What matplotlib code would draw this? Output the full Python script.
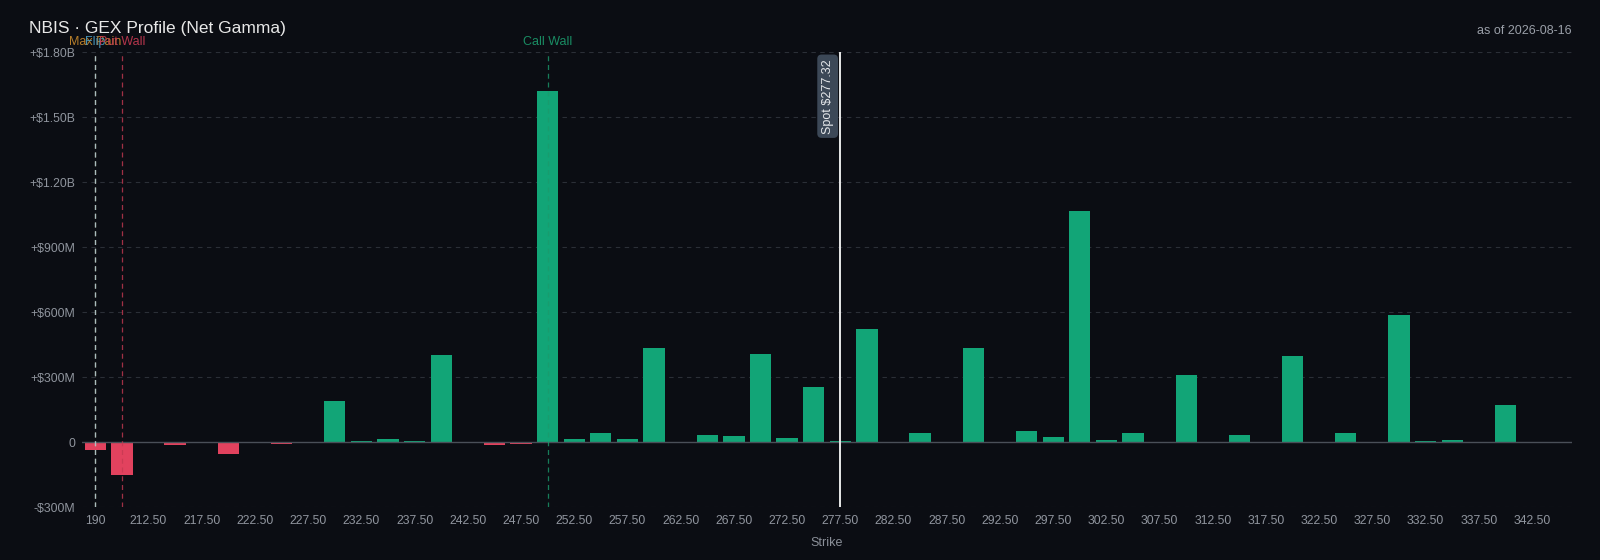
import matplotlib.pyplot as plt
import matplotlib.transforms as mtransforms

plt.rcParams['font.family'] = ['Liberation Sans', 'DejaVu Sans']

# strikes (category axis) and net gamma in $M
strikes = [190, 200] + [212.5 + 2.5 * i for i in range(54)]
net_gex = [-35, -152, 2, -12, 0, -55, 0, -10, -3, 191,
           3, 14, 5, 403, -3, -13, -11, 1620, 15, 40,
           14, 433, 0, 31, 26, 407, 17, 255, 6, 521,
           2, 40, 1, 436, 2, 50, 22, 1068, 9, 40,
           0, 311, 1, 34, 0, 397, 0, 43, 1, 586,
           3, 11, 0, 171, 0, 0]
spot = 277.32
levels = {'Max Pain': 190, 'Flip': 190, 'Put Wall': 200, 'Call Wall': 250}
level_colors = {'Max Pain': '#c98a2c', 'Flip': '#4c9fc4', 'Put Wall': '#c63a52', 'Call Wall': '#1b9a6c'}
line_colors = {'Max Pain': '#d8c89a', 'Flip': '#a9c4d0', 'Put Wall': '#c63a52', 'Call Wall': '#1b9a6c'}
yticks = [-300, 0, 300, 600, 900, 1200, 1500, 1800]
ytick_labels = ['-$300M', '0', '+$300M', '+$600M', '+$900M', '+$1.20B', '+$1.50B', '+$1.80B']
date_txt = 'as of 2026-08-16'


def fmt_strike(s):
    return str(int(s)) if float(s).is_integer() else f'{s:.2f}'


bg = '#0b0d13'
fig = plt.figure(figsize=(16, 5.6), dpi=100, facecolor=bg)
ax = fig.add_axes([0.05125, 0.0946, 0.93125, 0.8124], facecolor=bg)

idx = list(range(len(strikes)))
cols = ['#12a577' if v >= 0 else '#e2425e' for v in net_gex]
ax.bar(idx, net_gex, width=0.8, color=cols, zorder=3)

ax.set_xlim(-0.5, len(strikes) - 0.5)
ax.set_ylim(-300, 1800)
ax.set_yticks(yticks)
ax.set_yticklabels(ytick_labels)
ax.set_xticks(idx[::2])
ax.set_xticklabels([fmt_strike(s) for s in strikes[::2]])
ax.tick_params(axis='both', length=0, colors='#90959e', labelsize=8.8)
ax.tick_params(axis='y', pad=5)
ax.tick_params(axis='x', pad=6)
for sp in ax.spines.values():
    sp.set_visible(False)

for y in yticks:
    if y == 0:
        ax.axhline(0, color='#4a4f58', lw=1, zorder=4)
    else:
        ax.axhline(y, color='#2b2f37', lw=0.8, ls=(0, (4, 4)), zorder=1)

trans = mtransforms.blended_transform_factory(ax.transData, ax.transAxes)
for name, k in levels.items():
    xi = strikes.index(k)
    ax.axvline(xi, color=line_colors[name], lw=0.9, ls=(0, (4, 3)), alpha=0.8, zorder=5)
    ax.text(xi, 1.01, name, transform=trans, ha='center', va='bottom',
            color=level_colors[name], fontsize=9, alpha=0.9)

# spot marker sits in its strike bucket
spot_i = min(idx, key=lambda i: abs(strikes[i] - spot))
ax.axvline(spot_i, color='#e8e8e8', lw=1.4, zorder=6)
ax.text(spot_i - 0.25, 0.985, f'Spot ${spot:.2f}', transform=trans, rotation=90,
        ha='right', va='top', color='#e6e8eb', fontsize=9, zorder=7,
        bbox=dict(boxstyle='round,pad=0.35', fc='#3c4857', ec='none'))

ax.set_xlabel('Strike', color='#8b9099', fontsize=9, labelpad=7)
fig.text(0.018, 0.95, 'NBIS · GEX Profile (Net Gamma)', color='#e8e8e8', fontsize=12.5, va='center')
fig.text(0.982, 0.945, date_txt, color='#9a9fa8', fontsize=9, ha='right', va='center')

fig.savefig('out.png', dpi=100, facecolor=bg)
